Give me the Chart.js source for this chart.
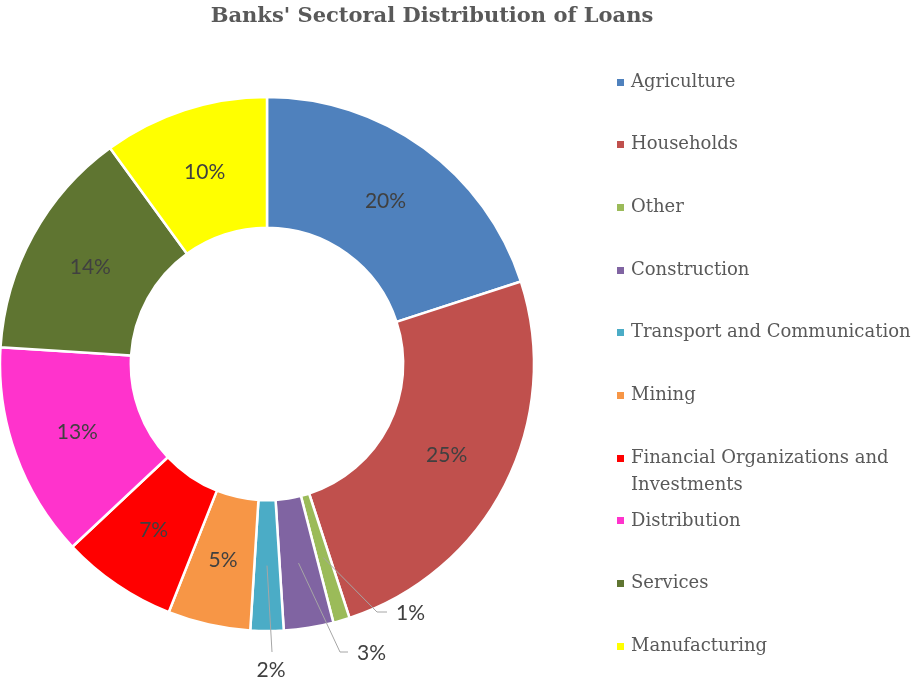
<!DOCTYPE html>
<html>
<head>
<meta charset="utf-8">
<title>Banks' Sectoral Distribution of Loans</title>
<script src="https://cdn.jsdelivr.net/npm/chart.js@4.4.0/dist/chart.umd.min.js"></script>
<style>
  html, body { margin: 0; padding: 0; background: #ffffff; }
  #wrap { width: 914px; height: 683px; position: relative; }
</style>
</head>
<body>
<div id="wrap"><canvas id="loans" width="914" height="683"></canvas></div>
<script>
// Loan shares by sector (percent of total bank lending)
const sectors = [
  'Agriculture',
  'Households',
  'Other',
  'Construction',
  'Transport and Communication',
  'Mining',
  'Financial Organizations and Investments',
  'Distribution',
  'Services',
  'Manufacturing'
];
const shares = [20, 25, 1, 3, 2, 5, 7, 13, 14, 10];
const sectorColors = [
  '#4F81BD', '#C0504D', '#9BBB59', '#8064A2', '#4BACC6',
  '#F79646', '#FF0000', '#FF33CC', '#5F7531', '#FFFF00'
];
const chartTitle = "Banks' Sectoral Distribution of Loans";

// Thin slices get their label outside the ring, joined by a leader line.
// Offsets are measured from the ring centre.
const callouts = {
  2: { elbow: [110, 248], tail: [120, 248], text: [129, 249], align: 'left' },
  3: { elbow: [73, 288],  tail: [81, 288],  text: [90, 289],  align: 'left' },
  4: { elbow: [5, 288],   tail: null,       text: [4, 306],   align: 'center' }
};

const LABEL_FONT = '21px Lato, "Open Sans", sans-serif';
const LEGEND_FONT = '18px "DejaVu Serif", "Liberation Serif", serif';
const TITLE_FONT = 'bold 21px "DejaVu Serif", "Liberation Serif", serif';

const titlePlugin = {
  id: 'titleText',
  afterDraw(chart) {
    const ctx = chart.ctx;
    ctx.save();
    ctx.font = TITLE_FONT;
    ctx.fillStyle = '#595959';
    ctx.textAlign = 'center';
    ctx.textBaseline = 'middle';
    ctx.fillText(chartTitle, 432, 17);
    ctx.restore();
  }
};

const sliceLabels = {
  id: 'sliceLabels',
  afterDatasetsDraw(chart) {
    const ctx = chart.ctx;
    const meta = chart.getDatasetMeta(0);
    const values = chart.data.datasets[0].data;
    ctx.save();
    ctx.font = LABEL_FONT;
    ctx.fillStyle = '#404040';
    ctx.textBaseline = 'middle';
    meta.data.forEach((arc, i) => {
      const text = values[i] + '%';
      const pos = arc.tooltipPosition();
      const c = callouts[i];
      if (!c) {
        ctx.textAlign = 'center';
        ctx.fillText(text, pos.x, pos.y);
        return;
      }
      const cx = arc.x, cy = arc.y;
      ctx.strokeStyle = '#A6A6A6';
      ctx.lineWidth = 1;
      ctx.beginPath();
      ctx.moveTo(pos.x, pos.y);
      ctx.lineTo(cx + c.elbow[0], cy + c.elbow[1]);
      if (c.tail) ctx.lineTo(cx + c.tail[0], cy + c.tail[1]);
      ctx.stroke();
      ctx.textAlign = c.align;
      ctx.fillText(text, cx + c.text[0], cy + c.text[1]);
    });
    ctx.restore();
  }
};

// Legend on the right, wrapping long names onto a second line.
const sideLegend = {
  id: 'sideLegend',
  afterDraw(chart) {
    const ctx = chart.ctx;
    const labels = chart.data.labels;
    const colors = chart.data.datasets[0].backgroundColor;
    const textX = 631, firstY = 82, step = 62.7, lineH = 27;
    const maxW = chart.width - textX + 4;
    ctx.save();
    ctx.font = LEGEND_FONT;
    ctx.textBaseline = 'middle';
    ctx.textAlign = 'left';
    labels.forEach((name, i) => {
      const y = firstY + i * step;
      ctx.fillStyle = colors[i];
      ctx.fillRect(617, Math.round(y - 3.5), 7, 7);
      // word wrap
      const words = name.split(' ');
      const lines = [];
      let line = '';
      words.forEach(w => {
        const test = line ? line + ' ' + w : w;
        if (line && ctx.measureText(test).width > maxW) {
          lines.push(line);
          line = w;
        } else {
          line = test;
        }
      });
      lines.push(line);
      ctx.fillStyle = '#595959';
      lines.forEach((l, k) => ctx.fillText(l, textX, y + k * lineH));
    });
    ctx.restore();
  }
};

new Chart(document.getElementById('loans'), {
  type: 'doughnut',
  data: {
    labels: sectors,
    datasets: [{
      data: shares,
      backgroundColor: sectorColors,
      borderColor: '#ffffff',
      borderWidth: 2.5,
      hoverOffset: 0,
      offset: 0
    }]
  },
  options: {
    responsive: false,
    animation: false,
    cutout: '51%',
    radius: 267,
    rotation: 0,
    layout: { padding: { left: 0, right: 380, top: 97, bottom: 52 } },
    plugins: {
      legend: { display: false },
      title: { display: false },
      tooltip: { enabled: false }
    },
    events: []
  },
  plugins: [titlePlugin, sliceLabels, sideLegend]
});
</script>
</body>
</html>
